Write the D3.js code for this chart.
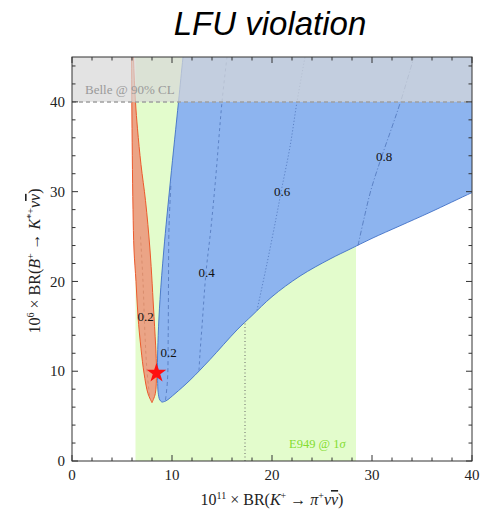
<!DOCTYPE html>
<html>
<head>
<meta charset="utf-8">
<script src="https://cdn.jsdelivr.net/npm/d3@7"></script>
<style>
  html, body { margin: 0; padding: 0; background: #fff; }
  svg { display: block; }
</style>
</head>
<body>
<svg id="chart" width="491" height="511"></svg>
<script>
// Axis ticks
const xMajorTicks = [0, 10, 20, 30, 40];
const yMajorTicks = [0, 10, 20, 30, 40];
const minorStep = 2;

// E949 1-sigma band and central value on BR(K+ -> pi+ nu nubar) x 1e11
const e949Band = [6.35, 28.4];
const e949Central = 17.3;

// Belle 90% CL upper limit on BR(B+ -> K*+ nu nubar) x 1e6
const belleLimit = 40;

// Allowed region (blue): left edge from top to the tip, then lower edge to the right
const blueLeftEdge = [
  [11.6, 50], [11.1, 45], [10.65, 40], [9.85, 31.3], [9.18, 23.5], [8.8, 18],
  [8.62, 14], [8.55, 11], [8.56, 9], [8.62, 7.6], [8.78, 6.8], [9.0, 6.55]
];
const blueLowerEdge = [
  [9.0, 6.55], [9.4, 6.7], [10.3, 7.5], [11.8, 9.0], [13.8, 11.3], [16.5, 14.6],
  [18.0, 16.2], [20.0, 18.3], [22.8, 20.6], [25.8, 22.5], [27.8, 23.6],
  [30.0, 24.8], [32.8, 26.2], [35.8, 27.7], [40.0, 29.9], [42, 30.9]
];

// Allowed region (orange)
const orangeLeftEdge = [
  [5.92, 50], [5.95, 45], [5.98, 40], [6.03, 34], [6.1, 28], [6.2, 23.5], [6.4, 20],
  [6.6, 16.1], [6.9, 12.5], [7.2, 9.8], [7.6, 7.5], [8.0, 6.5]
];
const orangeRightEdge = [
  [8.0, 6.5], [8.33, 7.5], [8.45, 9.8], [8.4, 12], [8.2, 16.1], [7.8, 23.5],
  [7.35, 29], [6.9, 33], [6.55, 37], [6.35, 40], [6.15, 45], [6.1, 50]
];

// Contour levels with their line points and label positions
const contourLevels = ["0.2", "0.4", "0.6", "0.8"];
const contourLines = [
  [[9.35, 6.8], [9.55, 9], [9.62, 14], [9.65, 20], [9.7, 26], [9.9, 31]],
  [[12.7, 10.1], [12.8, 12], [13.0, 15], [13.4, 21], [13.9, 26], [14.35, 31.3], [15.0, 40], [15.5, 45]],
  [[18.5, 16.8], [19.5, 22], [20.4, 27], [21.0, 30.5], [21.8, 35], [22.5, 40], [23.3, 45]],
  [[28.6, 24.0], [29.2, 27], [29.9, 30.2], [31.0, 34], [32.0, 37.2], [32.85, 40], [34.2, 45]]
];
const contourDashes = ["4,3", "3,3", "1.2,2", "5,2,1.2,2"];
const contourLabelPos = [[9.65, 12.1], [13.45, 21.0], [21.0, 30.0], [31.2, 33.9]];
const orangeContour = [[7.75, 7.3], [7.5, 10], [7.3, 14], [7.1, 20], [6.85, 25]];
const orangeLabelPos = [7.35, 16.1];

// Standard Model point
const smPoint = [8.45, 9.8];

const svg = d3.select("#chart");
const x = d3.scaleLinear().domain([0, 40]).range([72, 472]);
const y = d3.scaleLinear().domain([0, 45]).range([461, 57]);
const [x0, x1] = x.range();
const [y0, y1] = y.range();

const serif = "'Liberation Serif', 'DejaVu Serif', serif";

svg.append("defs").append("clipPath").attr("id", "plotClip")
  .append("rect").attr("x", x0).attr("y", y1).attr("width", x1 - x0).attr("height", y0 - y1);

const plot = svg.append("g").attr("clip-path", "url(#plotClip)");

// E949 band
plot.append("rect")
  .attr("x", x(e949Band[0])).attr("width", x(e949Band[1]) - x(e949Band[0]))
  .attr("y", y1).attr("height", y0 - y1)
  .attr("fill", "#e3fccc");

// E949 central value
plot.append("line")
  .attr("x1", x(e949Central)).attr("x2", x(e949Central))
  .attr("y1", y(0)).attr("y2", y(18))
  .attr("stroke", "#666").attr("stroke-width", 1)
  .attr("stroke-dasharray", "1,2.5");

const curve = d3.line().x(d => x(d[0])).y(d => y(d[1])).curve(d3.curveCatmullRom.alpha(0.5));

// Blue region
const bluePath = curve(blueLeftEdge) + curve(blueLowerEdge).replace(/^M/, "L") +
  `L${x(42)},${y(50)}Z`;
plot.append("path").attr("d", bluePath)
  .attr("fill", "#8db4ef").attr("stroke", "#3f6fc6").attr("stroke-width", 0.9);

// Contour lines
contourLines.forEach((pts, i) => {
  plot.append("path").attr("d", curve(pts))
    .attr("fill", "none").attr("stroke", "#3a5fa8").attr("stroke-opacity", 0.75)
    .attr("stroke-width", 0.8).attr("stroke-dasharray", contourDashes[i]);
});

// Orange region
const orangePath = curve(orangeLeftEdge) + curve(orangeRightEdge).replace(/^M/, "L") + "Z";
plot.append("path").attr("d", orangePath)
  .attr("fill", "#eba486").attr("stroke", "#ec5a2c").attr("stroke-width", 1);
plot.append("path").attr("d", curve(orangeContour))
  .attr("fill", "none").attr("stroke", "#b8603e").attr("stroke-opacity", 0.5)
  .attr("stroke-width", 0.7).attr("stroke-dasharray", "3,3");

// Belle excluded band
plot.append("rect")
  .attr("x", x0).attr("width", x1 - x0)
  .attr("y", y1).attr("height", y(belleLimit) - y1)
  .attr("fill", "rgb(216,216,216)").attr("fill-opacity", 0.72);
plot.append("line")
  .attr("x1", x0).attr("x2", x1)
  .attr("y1", y(belleLimit)).attr("y2", y(belleLimit))
  .attr("stroke", "#a0a0a0").attr("stroke-width", 1.5)
  .attr("stroke-dasharray", "4,3");

plot.append("text")
  .attr("x", x(1.3)).attr("y", y(belleLimit) - 8)
  .attr("font-family", serif).attr("font-size", 13).attr("fill", "#9a9a9a")
  .text("Belle @ 90% CL");

plot.append("text")
  .attr("x", x(21.7)).attr("y", y(1.5))
  .attr("font-family", serif).attr("font-size", 12.5).attr("fill", "#84dc30")
  .text("E949 @ 1")
  .append("tspan").attr("font-style", "italic").text("σ");

// Contour labels
const labelStyle = sel => sel
  .attr("dy", "0.35em").attr("text-anchor", "middle")
  .attr("font-family", serif).attr("font-size", 13).attr("fill", "#111");
contourLevels.forEach((lab, i) => {
  plot.append("text")
    .attr("x", x(contourLabelPos[i][0])).attr("y", y(contourLabelPos[i][1]))
    .call(labelStyle).text(lab);
});
plot.append("text")
  .attr("x", x(orangeLabelPos[0])).attr("y", y(orangeLabelPos[1]))
  .call(labelStyle).text("0.2");

// SM point
plot.append("path")
  .attr("d", d3.symbol(d3.symbolStar, 120)())
  .attr("transform", `translate(${x(smPoint[0])},${y(smPoint[1])})`)
  .attr("fill", "#ff1010");

// Frame
svg.append("rect")
  .attr("x", x0).attr("y", y1).attr("width", x1 - x0).attr("height", y0 - y1)
  .attr("fill", "none").attr("stroke", "#333").attr("stroke-width", 1);

// Frame ticks on all four sides, pointing inward
const ticks = svg.append("g").attr("stroke", "#333").attr("stroke-width", 1);
const xMinor = d3.range(0, 40 + 0.001, minorStep);
const yMinor = d3.range(0, 45, minorStep);
xMinor.forEach(v => {
  const len = xMajorTicks.includes(v) ? 6 : 3.5;
  ticks.append("line").attr("x1", x(v)).attr("x2", x(v)).attr("y1", y0).attr("y2", y0 - len);
  ticks.append("line").attr("x1", x(v)).attr("x2", x(v)).attr("y1", y1).attr("y2", y1 + len);
});
yMinor.forEach(v => {
  const len = yMajorTicks.includes(v) ? 6 : 3.5;
  ticks.append("line").attr("y1", y(v)).attr("y2", y(v)).attr("x1", x0).attr("x2", x0 + len);
  ticks.append("line").attr("y1", y(v)).attr("y2", y(v)).attr("x1", x1).attr("x2", x1 - len);
});

// Tick labels
svg.append("g").selectAll("text").data(xMajorTicks).join("text")
  .attr("x", d => x(d)).attr("y", y0 + 19)
  .attr("text-anchor", "middle")
  .attr("font-family", serif).attr("font-size", 15).attr("fill", "#222")
  .text(d => d);
svg.append("g").selectAll("text").data(yMajorTicks).join("text")
  .attr("x", x0 - 7).attr("y", d => y(d)).attr("dy", "0.35em")
  .attr("text-anchor", "end")
  .attr("font-family", serif).attr("font-size", 15).attr("fill", "#222")
  .text(d => d);

// Axis titles; "bar" puts a short overbar on the antineutrino
function writeLabel(sel, parts) {
  parts.forEach(p => {
    const t = sel.append("tspan").text(p.t);
    if (p.i) t.attr("font-style", "italic");
    if (p.sup) t.attr("font-size", 10).attr("dy", -6);
    if (p.down) t.attr("dy", 6);
    if (p.bar) t.style("text-decoration", "overline");
  });
}
const xTitle = svg.append("text")
  .attr("x", 272).attr("y", 505).attr("text-anchor", "middle")
  .attr("font-family", serif).attr("font-size", 16).attr("fill", "#222");
writeLabel(xTitle, [
  {t: "10"}, {t: "11", sup: true}, {t: " × BR(", down: true}, {t: "K", i: true},
  {t: "+", sup: true}, {t: " → ", down: true}, {t: "π", i: true}, {t: "+", sup: true},
  {t: "ν", i: true, down: true}, {t: "ν", i: true, bar: true}, {t: ")"}
]);

const yTitle = svg.append("text")
  .attr("transform", "translate(40,261) rotate(-90)").attr("text-anchor", "middle")
  .attr("font-family", serif).attr("font-size", 16).attr("fill", "#222");
writeLabel(yTitle, [
  {t: "10"}, {t: "6", sup: true}, {t: " × BR(", down: true}, {t: "B", i: true},
  {t: "+", sup: true}, {t: " → ", down: true}, {t: "K", i: true}, {t: "*+", sup: true},
  {t: "ν", i: true, down: true}, {t: "ν", i: true, bar: true}, {t: ")"}
]);

// Title
svg.append("text")
  .attr("x", 270).attr("y", 35).attr("text-anchor", "middle")
  .attr("font-family", "'Liberation Sans', Arial, sans-serif")
  .attr("font-size", 33).attr("font-style", "italic").attr("fill", "#000")
  .text("LFU violation");
</script>
</body>
</html>
